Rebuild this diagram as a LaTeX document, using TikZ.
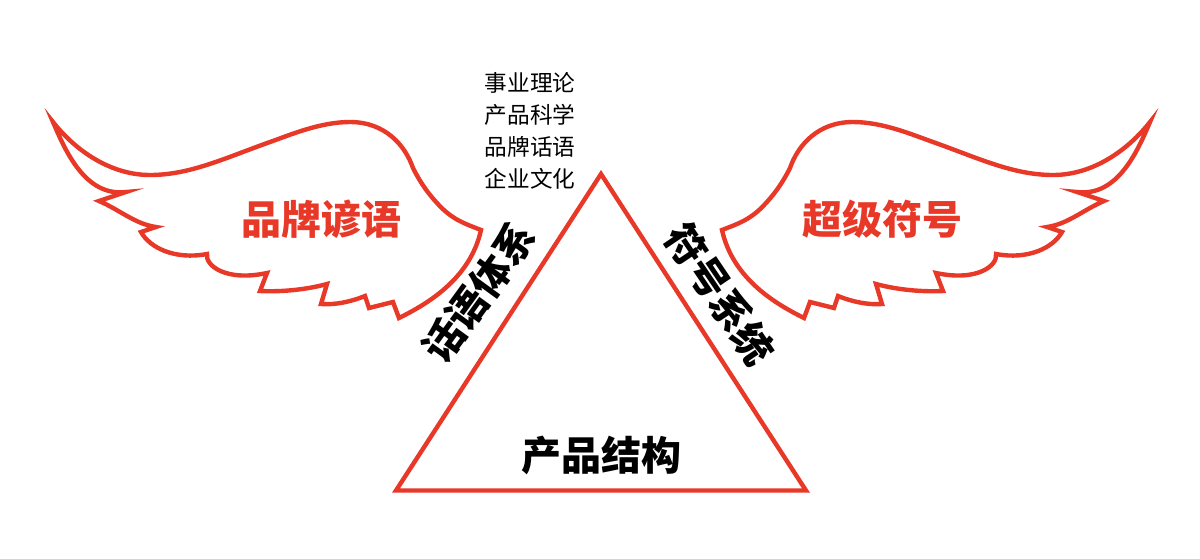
\documentclass[tikz,border=0pt]{standalone}
\usepackage{fontspec}
\newfontfamily\cjk{Noto Sans CJK SC}

\definecolor{wingred}{RGB}{232,56,40}

\tikzset{every picture/.style={line width=0.75pt}}
\tikzset{redline/.style={draw=wingred,line width=3.3pt,line join=miter,miter limit=40}}
\tikzset{bigred/.style={text=wingred,font=\cjk\fontsize{30}{34}\selectfont\bfseries,inner sep=0pt}}
\tikzset{bigblack/.style={text=black,font=\cjk\fontsize{30}{34}\selectfont\bfseries,inner sep=0pt}}
\tikzset{smalltext/.style={text=black,font=\cjk\fontsize{17}{20}\selectfont,inner sep=0pt}}

\newcommand{\wingpath}{(481,230) .. controls (466,224) and (452,220) .. (437,203) .. controls (425,190) and (418,178) .. (413,168) .. controls (405,145) and (385,122) .. (350,122) .. controls (320,122) and (290,135) .. (270,142) .. controls (225,158) and (190,175) .. (150,175) .. controls (110,175) and (75,150) .. (53,122) .. controls (65,150) and (85,197) .. (126,192) -- (99,201) .. controls (120,210) and (135,224) .. (156,227) -- (141,232) .. controls (150,248) and (175,260) .. (207,254) .. controls (205,265) and (225,282) .. (267,273) -- (260,291) .. controls (280,292) and (305,290) .. (327,284) -- (321,304) .. controls (335,305) and (350,302) .. (365,296) -- (369,308) -- (393,302) -- (399,318) .. controls (425,305) and (470,280) .. (481,230) -- cycle}

\begin{document}
\begin{tikzpicture}[x=0.75pt,y=0.75pt,yscale=-1,xscale=1]
	\useasboundingbox (0,0) rectangle (1200,558);

	%Shape: Left wing
	\draw [redline] \wingpath;
	%Shape: Right wing
	\begin{scope}[shift={(1203,0)},xscale=-1]
		\draw [redline] \wingpath;
	\end{scope}
	%Shape: Triangle
	\draw [redline] (601,174) -- (806,490.5) -- (396,490.5) -- cycle;

	% Text Node
	\node [smalltext] (theory) at (530,83) {事业理论};
	% Text Node
	\node [smalltext] (science) at (530,115) {产品科学};
	% Text Node
	\node [smalltext] (discourse) at (530,147) {品牌话语};
	% Text Node
	\node [smalltext] (culture) at (530,179) {企业文化};
	% Text Node
	\node [bigred] (proverb) at (321,219) {品牌谚语};
	% Text Node
	\node [bigred] (supersign) at (882,219) {超级符号};
	% Text Node
	\node [bigblack,rotate=54] (speech) at (479,292) {话语体系};
	% Text Node
	\node [bigblack,rotate=-56] (signs) at (720,294) {符号系统};
	% Text Node
	\node [bigblack] (structure) at (601,455) {产品结构};
\end{tikzpicture}
\end{document}
